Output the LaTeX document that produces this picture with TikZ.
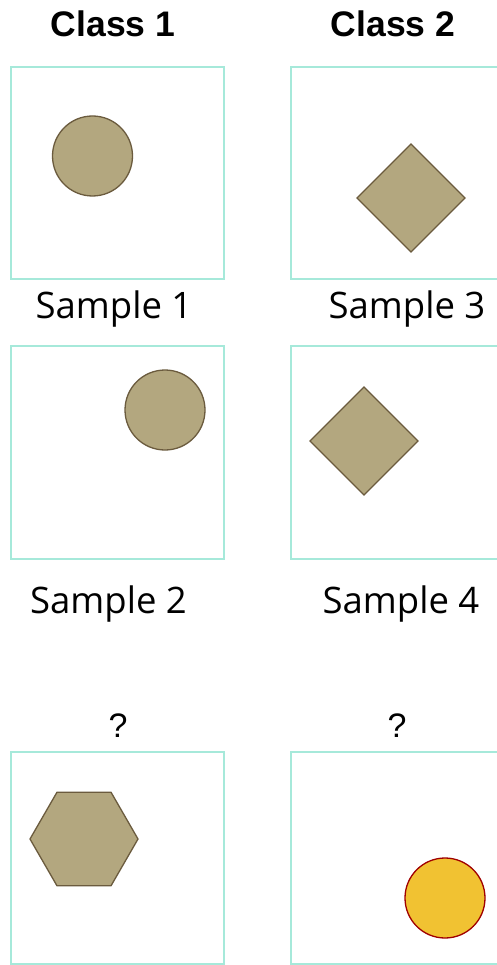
\documentclass[tikz,border=0pt]{standalone}
\usepackage{fontspec}
\setmainfont{Liberation Sans}
\newfontfamily\samplefont{Open Sans}
\usetikzlibrary{shapes.geometric}
\definecolor{boxc}{HTML}{A6E9DA}
\definecolor{shapefill}{HTML}{B3A77F}
\definecolor{shapeedge}{HTML}{6B5B3E}
\definecolor{yelfill}{HTML}{F1C232}
\definecolor{yeledge}{HTML}{A00000}
\tikzset{
  frame/.style={draw=boxc, line width=2pt},
  tan/.style={fill=shapefill, draw=shapeedge, line width=1.3pt},
  classlbl/.style={anchor=base, inner sep=0pt, font=\fontsize{35.5}{40}\selectfont\bfseries},
  samplelbl/.style={anchor=base, inner sep=0pt, font=\fontsize{36.5}{42}\selectfont\samplefont},
  qlbl/.style={anchor=base, inner sep=0pt, font=\fontsize{34}{40}\selectfont},
}
\begin{document}
\begin{tikzpicture}[x=1pt,y=-1pt]
\useasboundingbox (0,0) rectangle (497,965);
\clip (0,0) rectangle (497,965);
\fill[white] (0,0) rectangle (497,965);
% titles
\node[classlbl] (c1) at (113,37) {Class 1};
\node[classlbl] (c2) at (393,37) {Class 2};
% frames
\draw[frame] (11,67) rectangle (223.5,279);
\draw[frame] (291,67) rectangle (504,279);
\draw[frame] (11,346) rectangle (223.5,558.5);
\draw[frame] (291,346) rectangle (504,558.5);
\draw[frame] (11,752) rectangle (223.5,964);
\draw[frame] (291,752) rectangle (504,964);
% shapes
\draw[tan] (92.5,156) circle[radius=40];
\draw[tan] (411,144) -- (465,198) -- (411,252) -- (357,198) -- cycle;
\draw[tan] (165,410) circle[radius=40];
\draw[tan] (364,387) -- (418,441) -- (364,495) -- (310,441) -- cycle;
\draw[tan] (138,839) -- (111,885.8) -- (57,885.8) -- (30,839) -- (57,792.2) -- (111,792.2) -- cycle;
\draw[fill=yelfill, draw=yeledge, line width=1.3pt] (445,898) circle[radius=40];
% labels
\node[samplelbl] (s1) at (114,318) {Sample 1};
\node[samplelbl] (s3) at (407,318) {Sample 3};
\node[samplelbl] (s2) at (108.5,613) {Sample 2};
\node[samplelbl] (s4) at (401,613) {Sample 4};
\node[qlbl] (q1) at (118,737) {?};
\node[qlbl] (q2) at (397,737) {?};
\end{tikzpicture}
\end{document}
